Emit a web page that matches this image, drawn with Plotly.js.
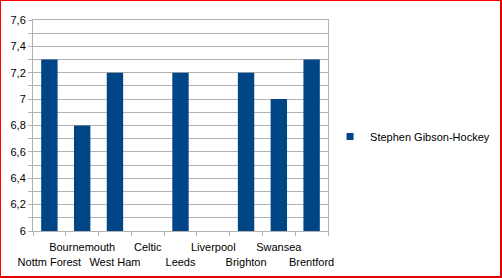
<!DOCTYPE html>
<html>
<head>
<meta charset="utf-8">
<script src="https://cdn.plot.ly/plotly-3.0.1.min.js"></script>
<style>
html,body{margin:0;padding:0;background:#fff;}
#frame{position:absolute;left:0;top:0;width:502px;height:278px;box-sizing:border-box;border:1px solid #ff0000;border-right:2px solid #e00000;border-bottom:2px solid #e00000;}
#chart{position:absolute;left:0;top:0;width:502px;height:278px;}
</style>
</head>
<body>
<div id="chart"></div>
<div id="frame"></div>
<script>
var categories = ["Nottm Forest","Bournemouth","West Ham","Celtic","Leeds","Liverpool","Brighton","Swansea","Brentford"];
var ratings = [7.3, 6.8, 7.2, null, 7.2, null, 7.2, 7.0, 7.3];
var seriesName = "Stephen Gibson-Hockey";
var yTicks = [6, 6.2, 6.4, 6.6, 6.8, 7, 7.2, 7.4, 7.6];

var tickLabels = categories.map(function(c, i){ return i % 2 === 0 ? " <br>" + c : c; });

var barColor = "#004586";
var gridColor = "#b3b3b3";

var traces = [
  {type:"bar", x:categories, y:ratings, marker:{color:barColor, line:{width:0}}, showlegend:false, hoverinfo:"none"},
  {type:"scatter", mode:"markers", x:[categories[0]], y:[null], name:seriesName,
   marker:{symbol:"square", size:7, color:barColor}, showlegend:true, hoverinfo:"none"}
];

var layout = {
  width:502, height:278,
  margin:{l:33, r:174, t:20, b:47, autoexpand:false},
  paper_bgcolor:"#fff", plot_bgcolor:"#fff",
  separators:", ",
  font:{family:"Liberation Sans, Arial, sans-serif", size:11, color:"#000"},
  bargap:0.5,
  showlegend:true,
  legend:{x:1.007, xanchor:"left", y:0.448, yanchor:"middle", font:{size:11, color:"#000"}, bgcolor:"rgba(0,0,0,0)", borderwidth:0, itemwidth:30},
  xaxis:{
    type:"category",
    tickmode:"array", tickvals:categories, ticktext:tickLabels,
    tickson:"boundaries", ticks:"outside", ticklen:4, tickcolor:gridColor, tickangle:0,
    ticklabelstandoff:6, automargin:false,
    showline:true, linecolor:gridColor, linewidth:1, mirror:true,
    showgrid:false, zeroline:false,
    range:[-0.5, 8.5], fixedrange:true
  },
  yaxis:{
    range:[6, 7.6], tickmode:"array", tickvals:yTicks,
    ticks:"outside", ticklen:4, tickcolor:gridColor, automargin:false,
    showgrid:true, gridcolor:gridColor, gridwidth:1,
    minor:{dtick:0.1, tick0:6, showgrid:true, gridcolor:gridColor, ticks:"outside", ticklen:4, tickcolor:gridColor},
    showline:true, linecolor:gridColor, linewidth:1, mirror:true,
    zeroline:false, fixedrange:true
  }
};

Plotly.newPlot("chart", traces, layout, {displayModeBar:false, staticPlot:true});
</script>
</body>
</html>
